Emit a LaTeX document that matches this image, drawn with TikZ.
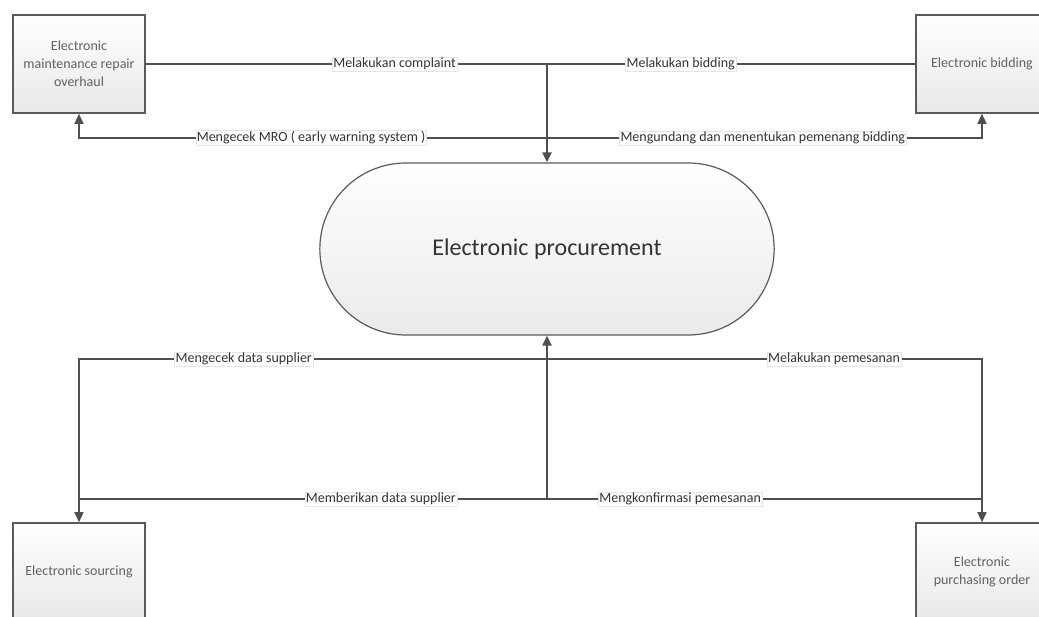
\documentclass[tikz,border=0pt]{standalone}
\usepackage{fontspec}
\setmainfont{Carlito}
\usetikzlibrary{arrows.meta,shapes.misc}
\definecolor{ln}{HTML}{4F4F4F}
\definecolor{bx}{HTML}{5A5A5A}
\begin{document}
\begin{tikzpicture}[x=1pt,y=-1pt,
  boxnode/.style={draw=bx, line width=1.6pt, minimum width=132pt, minimum height=98pt,
    top color=white, bottom color=black!9, text=black!62, align=center, inner sep=0pt,
    font=\fontsize{14}{18}\selectfont},
  procnode/.style={rounded rectangle, draw=bx, line width=1.2pt, minimum width=461pt,
    minimum height=172pt, top color=white, bottom color=black!8, text=black!80,
    font=\fontsize{24}{28}\selectfont},
  lbl/.style={fill=white, draw=black!10, line width=0.5pt, inner sep=1pt, text=black!80,
    font=\fontsize{14}{16}\selectfont},
  conn/.style={draw=ln, line width=1.5pt},
  mainconn/.style={draw=ln, line width=2pt},
  arr/.style={-{Triangle[length=10pt,width=9pt]}}
]
\useasboundingbox (0,0) rectangle (1039,616);

% nodes
\node[boxnode] (mro) at (79,64) {Electronic\\maintenance repair\\overhaul};
\node[boxnode] (bid) at (982,64) {Electronic bidding};
\node[boxnode] (src) at (79,572) {Electronic sourcing};
\node[boxnode] (po)  at (982,572) {Electronic\\purchasing order};
\node[procnode] (proc) at (547,249) {Electronic procurement};

% junctions
\coordinate (jt1) at (547,64);
\coordinate (jt2) at (547,138);
\coordinate (jb1) at (547,359);
\coordinate (jb2) at (547,499);

% top connectors
\draw[conn] (mro.east) -- node[lbl, pos=0.62] {Melakukan complaint} (jt1);
\draw[conn] (bid.west) -- node[lbl, pos=0.637] {Melakukan bidding} (jt1);
\draw[mainconn, arr] (jt1) -- (proc.north);
\draw[conn, arr] (jt2) -| node[lbl, pos=0.252] {Mengecek MRO ( early warning system )} (mro.south);
\draw[conn, arr] (jt2) -| node[lbl, pos=0.248] {Mengundang dan menentukan pemenang bidding} (bid.south);

% bottom connectors
\draw[conn, arr] (jb1) -| node[lbl, pos=0.324] {Mengecek data supplier} (src.north);
\draw[conn, arr] (jb1) -| node[lbl, pos=0.33] {Melakukan pemesanan} (po.north);
\draw[conn] (jb2) -- node[lbl, pos=0.355] {Memberikan data supplier} (src.north |- jb2);
\draw[conn] (jb2) -- node[lbl, pos=0.306] {Mengkonfirmasi pemesanan} (po.north |- jb2);
\draw[mainconn, arr] (jb2) -- (proc.south);
\end{tikzpicture}
\end{document}
